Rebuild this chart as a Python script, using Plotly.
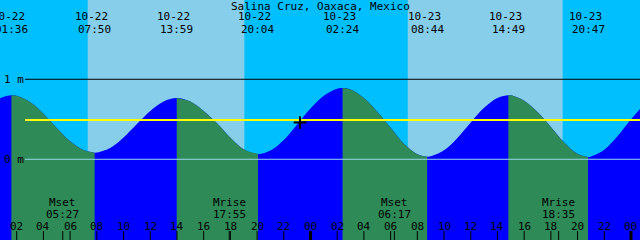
import plotly.graph_objects as go

# ---------------- data ----------------
title = "Salina Cruz, Oaxaca, Mexico"
event_dates = ["10-22", "10-22", "10-22", "10-22", "10-23", "10-23", "10-23", "10-23"]
event_times = ["01:36", "07:50", "13:59", "20:04", "02:24", "08:44", "14:49", "20:47"]
event_m = [0.80, 0.083, 0.766, 0.066, 0.89, 0.033, 0.80, 0.029]

# hourly tide heights (hours since 10-22 00:00)
curve_hours = list(range(0, 50))
curve_m = [0.69, 0.78, 0.793, 0.715, 0.57, 0.39, 0.225, 0.115, 0.084, 0.142,
           0.272, 0.44, 0.605, 0.723, 0.766, 0.722, 0.605, 0.45, 0.27, 0.125,
           0.066, 0.109, 0.241, 0.435, 0.635, 0.795, 0.882, 0.872, 0.765, 0.595,
           0.395, 0.195, 0.064, 0.037, 0.112, 0.267, 0.461, 0.644, 0.766, 0.799,
           0.732, 0.59, 0.405, 0.21, 0.068, 0.035, 0.12, 0.29, 0.50, 0.69]

sunrise = [("10-22", "07:19"), ("10-23", "07:17")]
sunset = [("10-22", "19:03"), ("10-23", "18:53")]

moon_labels = ["Mset", "Mrise", "Mset", "Mrise"]
moon_dates = ["10-22", "10-22", "10-23", "10-23"]
moon_times = ["05:27", "17:55", "06:17", "18:35"]

hour_ticks = list(range(2, 49, 2))
depth_lines_m = [0, 1]
depth_labels = ["0 m", "1 m"]
msl_m = 0.49
now_mark = ("10-22", "23:13")
now_m = 0.46

# ---------------- helpers ----------------
def hrs(date, time):
    day = int(date.split("-")[1]) - 22
    hh, mm = time.split(":")
    return day * 24 + int(hh) + int(mm) / 60.0

X0, X1 = 0.7488, 48.675          # visible time window (hours)
Y0, Y1 = -1.009, 1.991           # visible height window (m)
W, H = 640, 240

def py(p):                       # pixel row -> paper y
    return 1 - p / H

def m_of_px(p):                  # pixel row -> metres
    return Y1 - p / H * (Y1 - Y0)

def h_of_px(p):
    return X0 + p / W * (X1 - X0)

FONT = dict(family="DejaVu Sans Mono", size=11, color="black")
FLOOD, EBB = "#0000FF", "#2E8B57"
NIGHT, DAY = "#00BFFF", "#87CEEB"

ev_h = [hrs(d, t) for d, t in zip(event_dates, event_times)]
pts = [(h, m) for h, m in zip(curve_hours, curve_m)
       if all(abs(h - e) > 0.15 for e in ev_h)]
pts += list(zip(ev_h, event_m))
pts.sort()
px_h = [p[0] for p in pts]
px_m = [p[1] for p in pts]

fig = go.Figure()
BASE = -1.3

# flood fill for the whole curve
fig.add_trace(go.Scatter(x=[px_h[0], px_h[-1]], y=[BASE, BASE], mode="lines",
                         line=dict(width=0), hoverinfo="skip", showlegend=False))
fig.add_trace(go.Scatter(x=px_h, y=px_m, mode="lines", line=dict(width=0, shape="spline"),
                         fill="tonexty", fillcolor=FLOOD, hoverinfo="skip", showlegend=False))

# ebb fills (falling tide)
for k in range(len(ev_h) - 1):
    if event_m[k] > event_m[k + 1]:
        seg = [p for p in pts if ev_h[k] - 1e-9 <= p[0] <= ev_h[k + 1] + 1e-9]
        fig.add_trace(go.Scatter(x=[seg[0][0], seg[-1][0]], y=[BASE, BASE], mode="lines",
                                 line=dict(width=0), hoverinfo="skip", showlegend=False))
        fig.add_trace(go.Scatter(x=[p[0] for p in seg], y=[p[1] for p in seg], mode="lines",
                                 line=dict(width=0, shape="spline"), fill="tonexty",
                                 fillcolor=EBB, hoverinfo="skip", showlegend=False))

# depth lines and mean sea level
xl = h_of_px(25)
for d in depth_lines_m:
    fig.add_trace(go.Scatter(x=[xl, X1 + 1], y=[d, d], mode="lines",
                             line=dict(color="black" if d else "#9ad8ee", width=1),
                             hoverinfo="skip", showlegend=False))
fig.add_trace(go.Scatter(x=[xl, X1 + 1], y=[msl_m, msl_m], mode="lines",
                         line=dict(color="#FFFF00", width=2), hoverinfo="skip", showlegend=False))

# now marker
fig.add_trace(go.Scatter(x=[hrs(*now_mark)], y=[now_m], mode="markers",
                         marker=dict(symbol="cross-thin-open", size=9, color="black",
                                     line=dict(color="black", width=2)),
                         hoverinfo="skip", showlegend=False))

# ticks
moon_h = [hrs(d, t) for d, t in zip(moon_dates, moon_times)]
t_top, t_bot = m_of_px(231), m_of_px(242)
tx, ty, mx, my = [], [], [], []
for h in hour_ticks + moon_h:
    if h in hour_ticks and h % 24 == 0:
        mx += [h, h, None]; my += [t_top, t_bot, None]
    else:
        tx += [h, h, None]; ty += [t_top, t_bot, None]
fig.add_trace(go.Scatter(x=tx, y=ty, mode="lines", line=dict(color="black", width=1),
                         hoverinfo="skip", showlegend=False))
fig.add_trace(go.Scatter(x=mx, y=my, mode="lines", line=dict(color="black", width=3),
                         hoverinfo="skip", showlegend=False))

ann = []
ann.append(dict(text=title, x=0.5, xref="paper", y=py(6), yref="paper"))
for d, t, h in zip(event_dates, event_times, ev_h):
    ann.append(dict(text=d, x=h, xref="x", y=py(17), yref="paper", xshift=-3))
    ann.append(dict(text=t, x=h, xref="x", y=py(29), yref="paper"))
for lab, t, h in zip(moon_labels, moon_times, moon_h):
    ann.append(dict(text=lab, x=h, xref="x", y=py(202), yref="paper"))
    ann.append(dict(text=t, x=h, xref="x", y=py(214), yref="paper"))
for h in hour_ticks:
    ann.append(dict(text="%02d" % (h % 24), x=h, xref="x", y=py(226), yref="paper"))
for d, lab in zip(depth_lines_m, depth_labels):
    ann.append(dict(text=lab, x=0.003, xref="paper", xanchor="left", y=d, yref="y"))
for a in ann:
    a.update(showarrow=False, font=FONT, yanchor="middle")
    a.setdefault("xanchor", "center")

shapes = []
for (d1, t1), (d2, t2) in zip(sunrise, sunset):
    shapes.append(dict(type="rect", xref="x", yref="paper", x0=hrs(d1, t1), x1=hrs(d2, t2),
                       y0=0, y1=1, fillcolor=DAY, line=dict(width=0), layer="below"))

fig.update_layout(
    width=W, height=H, margin=dict(l=0, r=0, t=0, b=0),
    paper_bgcolor=NIGHT, plot_bgcolor=NIGHT,
    xaxis=dict(range=[X0, X1], visible=False, fixedrange=True),
    yaxis=dict(range=[Y0, Y1], visible=False, fixedrange=True),
    annotations=ann, shapes=shapes, showlegend=False,
)

fig.write_html("out.html")
